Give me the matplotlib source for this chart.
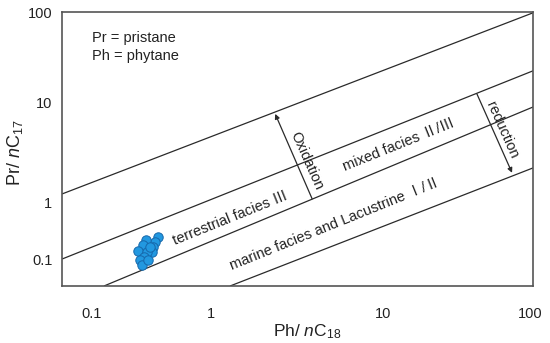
import numpy as np
import matplotlib
matplotlib.use('Agg')
import matplotlib.pyplot as plt
from matplotlib.ticker import NullLocator

plt.rcParams['font.family'] = ['Liberation Sans', 'Noto Sans CJK SC', 'DejaVu Sans']
plt.rcParams['mathtext.fontset'] = 'custom'
plt.rcParams['mathtext.rm'] = 'Liberation Sans'
plt.rcParams['mathtext.it'] = 'Liberation Sans:italic'

## samples (Ph/nC18, Pr/nC17)
ph_nc18 = [0.359, 0.338, 0.326, 0.319, 0.284, 0.268, 0.244, 0.290, 0.273, 0.253, 0.263, 0.296, 0.307]
pr_nc17 = [0.253, 0.207, 0.169, 0.138, 0.224, 0.183, 0.144, 0.138, 0.113, 0.100, 0.082, 0.100, 0.169]

## facies boundaries, [x0, x1], [y0, y1]
bound_x = [[0.056, 105], [0.056, 105], [0.126, 105], [1.29, 105]]
bound_y = [[1.23, 100], [0.104, 22.7], [0.035, 9.1], [0.035, 2.24]]

## arrows, tail -> head
oxid_tail, oxid_head = (3.87, 1.10), (2.36, 7.76)
redu_tail, redu_head = (43.5, 12.6), (75.5, 2.0)

tick_vals = [0.1, 1, 10, 100]
tick_labels = ['0.1', '1', '10', '100']

# the printed axis is not evenly spaced per decade, so use a piecewise log scale
x_dec = [-1, 0, 1, 2]
x_pos = [92, 211, 383, 530]
y_dec = [-1, 0, 1, 2]
y_pos = [-260, -203, -103, -13]


def lerp(t, a, b):
    t = np.asarray(t, dtype=float)
    shp = t.shape
    t = np.atleast_1d(t)
    out = np.interp(t, a, b)
    lo = t < a[0]
    hi = t > a[-1]
    out[lo] = b[0] + (t[lo] - a[0]) * (b[1] - b[0]) / (a[1] - a[0])
    out[hi] = b[-1] + (t[hi] - a[-1]) * (b[-1] - b[-2]) / (a[-1] - a[-2])
    return out.reshape(shp)


def piecewise(dec, pos):
    def fwd(v):
        return lerp(np.log10(np.clip(np.asarray(v, dtype=float), 1e-9, None)), dec, pos)

    def inv(p):
        return 10 ** lerp(p, pos, dec)
    return fwd, inv


fig = plt.figure(figsize=(5.5, 3.43), dpi=100)
ax = fig.add_axes([62 / 550, 1 - 286 / 343, 471 / 550, 274 / 343])
ax.set_xscale('function', functions=piecewise(x_dec, x_pos))
ax.set_yscale('function', functions=piecewise(y_dec, y_pos))
ax.set_xlim(0.0559, 104.8)
ax.set_ylim(0.035, 102)

for xs, ys in zip(bound_x, bound_y):
    ax.plot(xs, ys, color='#2a2a2a', lw=0.9, solid_capstyle='butt')

for tail, head in [(oxid_tail, oxid_head), (redu_tail, redu_head)]:
    ax.annotate('', xy=head, xytext=tail,
                arrowprops=dict(arrowstyle='-|>', color='#2a2a2a', lw=0.9,
                                mutation_scale=7, shrinkA=0, shrinkB=0))

ax.scatter(ph_nc18, pr_nc17, s=46, color='#2298e0', edgecolors='#1668ab',
           linewidths=0.7, zorder=5)

txt = dict(color='#222222', fontsize=10.5, ha='center', va='center', rotation_mode='anchor')
ax.text(1.30, 0.53, 'terrestrial facies Ⅲ', rotation=22, **txt)
ax.text(12.8, 3.80, 'mixed facies Ⅱ/Ⅲ', rotation=22, **txt)
ax.text(5.26, 0.428, 'marine facies and Lacustrine Ⅰ/Ⅱ', rotation=22, **txt)
ax.text(3.61, 2.63, 'Oxidation', rotation=-66, **txt)
ax.text(64.6, 5.37, 'reduction', rotation=-66, **txt)

ax.text(0.0635, 0.905, 'Pr = pristane', transform=ax.transAxes, fontsize=10.5,
        color='#222222', va='center')
ax.text(0.0635, 0.838, 'Ph = phytane', transform=ax.transAxes, fontsize=10.5,
        color='#222222', va='center')

ax.set_xticks(tick_vals)
ax.set_xticklabels(tick_labels)
ax.set_yticks(tick_vals)
ax.set_yticklabels(tick_labels)
ax.xaxis.set_minor_locator(NullLocator())
ax.yaxis.set_minor_locator(NullLocator())
ax.tick_params(axis='x', length=0, pad=15, labelsize=10.5, labelcolor='#222222')
ax.tick_params(axis='y', length=0, pad=7, labelsize=10.5, labelcolor='#222222')

ax.text(0.52, -0.168, 'Ph/ $\\mathit{n}$C$_{18}$', transform=ax.transAxes,
        fontsize=12.5, ha='center', va='center', color='#222222')
ax.text(-0.0998, 0.485, 'Pr/ $\\mathit{n}$C$_{17}$', transform=ax.transAxes,
        fontsize=13, ha='center', va='center', rotation=90, color='#222222')

for sp in ax.spines.values():
    sp.set_color('#555555')
    sp.set_linewidth(1.2)

fig.savefig('out.png', dpi=100)
